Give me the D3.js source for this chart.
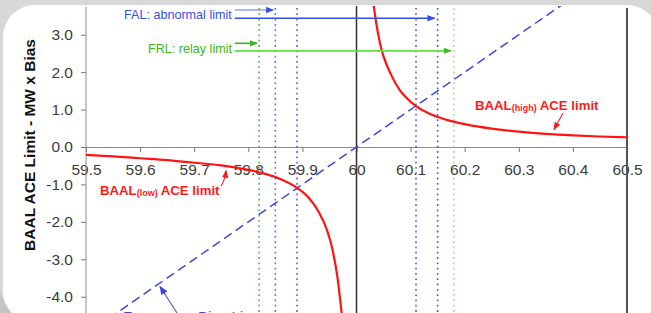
<!DOCTYPE html>
<html>
<head>
<meta charset="utf-8">
<script src="https://cdn.jsdelivr.net/npm/d3@7"></script>
<style>
  html, body { margin: 0; padding: 0; background: #d6d6d6; }
  svg { display: block; font-family: "Liberation Sans", Arial, sans-serif; }
</style>
</head>
<body>
<svg id="chart" width="651" height="313"></svg>
<script>
// ---------------- data ----------------
const xTicks = [59.5, 59.6, 59.7, 59.8, 59.9, 60.0, 60.1, 60.2, 60.3, 60.4, 60.5];
const xTickLabels = ["59.5", "59.6", "59.7", "59.8", "59.9", "60", "60.1", "60.2", "60.3", "60.4", "60.5"];
const yTicks = [3, 2, 1, 0, -1, -2, -3, -4];
const yTickLabels = ["3.0", "2.0", "1.0", "0.0", "-1.0", "-2.0", "-3.0", "-4.0"];

const baalHighFreq  = [60.027, 60.030, 60.035, 60.043, 60.050, 60.065, 60.080, 60.090, 60.110, 60.140, 60.170, 60.200, 60.250, 60.300, 60.350, 60.400, 60.450, 60.500];
const baalHighValue = [4.45, 4.00, 3.45, 2.80, 2.42, 1.90, 1.52, 1.35, 1.09, 0.86, 0.71, 0.61, 0.49, 0.41, 0.35, 0.31, 0.28, 0.26];

const baalLowFreq  = [59.500, 59.550, 59.600, 59.650, 59.700, 59.750, 59.800, 59.830, 59.860, 59.890, 59.910, 59.930, 59.945, 59.955, 59.965, 59.973];
const baalLowValue = [-0.21, -0.25, -0.30, -0.35, -0.42, -0.49, -0.61, -0.71, -0.86, -1.09, -1.33, -1.73, -2.20, -2.70, -3.50, -4.50];

const biasFreq  = [59.5, 60.5];
const biasValue = [-5.0, 5.0];

const frlFreqs = [59.82, 60.18];   // FRL: relay limit
const falFreqs = [59.85, 60.15];   // FAL: abnormal limit
const ftlFreqs = [59.89, 60.11];   // trigger limit

// ---------------- drawing ----------------
const svg = d3.select("#chart");
const W = 651, H = 313;

// frame
svg.append("rect").attr("width", W).attr("height", H).attr("fill", "#d8d8d8");
svg.append("path").attr("d", "M0,285 Q0,313 30,313 L0,313 Z").attr("fill", "#c4c4c4");
svg.append("rect").attr("x", 3).attr("y", 5).attr("width", 656).attr("height", 318)
  .attr("rx", 32).attr("fill", "#ffffff");

const x = d3.scaleLinear().domain([59.5, 60.5]).range([86, 627]);
const y = d3.scaleLinear().domain([0, 3]).range([147, 34.7]);

const defs = svg.append("defs");
defs.append("clipPath").attr("id", "plotclip")
  .append("rect").attr("x", 86).attr("y", 6).attr("width", 541).attr("height", H - 6);

function marker(id, color, size) {
  defs.append("marker").attr("id", id)
    .attr("viewBox", "0 0 10 10").attr("refX", 9).attr("refY", 5)
    .attr("markerUnits", "userSpaceOnUse")
    .attr("markerWidth", size).attr("markerHeight", size)
    .attr("orient", "auto")
    .append("path").attr("d", "M0,1 L10,5 L0,9 Z").attr("fill", color);
}
marker("arBlue", "#3550e6", 8);
marker("arGreen", "#3cb521", 8);
marker("arRed", "#ff1a1a", 8);
marker("arBias", "#3a4ad8", 9);

// x axis
const xAxis = d3.axisBottom(x).tickValues(xTicks)
  .tickFormat((d, i) => xTickLabels[i]).tickSize(5).tickPadding(12).tickSizeOuter(0);
const gx = svg.append("g").attr("transform", `translate(0,${y(0)})`).call(xAxis);
gx.select(".domain").attr("stroke", "#8a8a8a");
gx.selectAll(".tick line").attr("stroke", "#777");
gx.selectAll(".tick text").attr("fill", "#3c3c3c").attr("font-size", "15.5px")
  .attr("font-family", "Liberation Sans, Arial, sans-serif");

// y axis
const yAxis = d3.axisLeft(y).tickValues(yTicks)
  .tickFormat((d, i) => yTickLabels[i]).tickSize(5).tickPadding(8).tickSizeOuter(0);
const gy = svg.append("g").attr("transform", "translate(86,0)").call(yAxis);
gy.select(".domain").remove();
gy.selectAll(".tick line").attr("stroke", "#777");
gy.selectAll(".tick text").attr("fill", "#3c3c3c").attr("font-size", "15.5px")
  .attr("font-family", "Liberation Sans, Arial, sans-serif");
svg.append("line").attr("x1", 86).attr("x2", 86).attr("y1", 7).attr("y2", H)
  .attr("stroke", "#8a8a8a").attr("stroke-width", 1);

// y title
svg.append("text")
  .attr("transform", `translate(35,${145}) rotate(-90)`)
  .attr("text-anchor", "middle").attr("font-weight", "bold").attr("font-size", "15.5px")
  .attr("fill", "#111").text("BAAL ACE Limit - MW x Bias");

// vertical reference lines
svg.append("line").attr("x1", x(60)).attr("x2", x(60)).attr("y1", 6).attr("y2", H)
  .attr("stroke", "#333").attr("stroke-width", 1.5);
svg.append("line").attr("x1", x(60.5)).attr("x2", x(60.5)).attr("y1", 8).attr("y2", H)
  .attr("stroke", "#555").attr("stroke-width", 2);

const plot = svg.append("g").attr("clip-path", "url(#plotclip)");

// dotted limit lines
function vdots(freqs, colors) {
  plot.selectAll(null).data(freqs).enter().append("line")
    .attr("x1", d => x(d)).attr("x2", d => x(d)).attr("y1", 8).attr("y2", H)
    .attr("stroke", (d, i) => colors[i]).attr("stroke-width", 1.6)
    .attr("stroke-dasharray", "1.8,3.5");
}
vdots(frlFreqs, ["#3fbf3f", "#a8dca0"]);
vdots(falFreqs, ["#5870ff", "#3d5cff"]);
vdots(ftlFreqs, ["#8a4ce0", "#8a4ce0"]);

// frequency bias line
const line = d3.line().x(d => x(d[0])).y(d => y(d[1]));
plot.append("path").datum(biasFreq.map((f, i) => [f, biasValue[i]]))
  .attr("d", line).attr("fill", "none").attr("stroke", "#3a4ad8")
  .attr("stroke-width", 1.5).attr("stroke-dasharray", "9,5");

// BAAL curves
const curve = d3.line().x(d => x(d[0])).y(d => y(d[1])).curve(d3.curveMonotoneX);
plot.append("path").datum(baalHighFreq.map((f, i) => [f, baalHighValue[i]]))
  .attr("d", curve).attr("fill", "none").attr("stroke", "#ff1414").attr("stroke-width", 2.2);
plot.append("path").datum(baalLowFreq.map((f, i) => [f, baalLowValue[i]]))
  .attr("d", curve).attr("fill", "none").attr("stroke", "#ff1414").attr("stroke-width", 2.2);

// annotations: FAL / FRL
const startF = 59.775;
function arrow(x1, y1, x2, y2, color, mk, w) {
  svg.append("line").attr("x1", x1).attr("y1", y1).attr("x2", x2).attr("y2", y2)
    .attr("stroke", color).attr("stroke-width", w).attr("marker-end", `url(#${mk})`);
}
svg.append("text").attr("x", 124).attr("y", 18.5).attr("font-size", "12.6px")
  .attr("fill", "#3550e6").text("FAL: abnormal limit");
arrow(x(startF), y(3.66), x(falFreqs[0]) - 2, y(3.66), "#5b72ee", "arBlue", 1);
arrow(x(startF), y(3.44), x(falFreqs[1]) - 3, y(3.44), "#3550e6", "arBlue", 1.6);

svg.append("text").attr("x", 148).attr("y", 52.5).attr("font-size", "12.6px")
  .attr("fill", "#3cb521").text("FRL: relay limit");
arrow(x(startF), y(2.77), x(frlFreqs[0]) - 2, y(2.77), "#3cb521", "arGreen", 1.6);
arrow(x(startF), y(2.57), x(frlFreqs[1]) - 3, y(2.57), "#66dd44", "arGreen", 1.8);

// BAAL labels
function baalLabel(xp, yp, sub) {
  const t = svg.append("text").attr("x", xp).attr("y", yp).attr("font-weight", "bold")
    .attr("font-size", "13.2px").attr("fill", "#ff1a1a");
  t.append("tspan").text("BAAL");
  t.append("tspan").attr("font-size", "9px").attr("dy", 1).text(sub);
  t.append("tspan").attr("dy", -1).text(" ACE limit");
}
baalLabel(475, 110, "(high)");
arrow(563, 113, 554, 129.5, "#ff1a1a", "arRed", 1.1);
baalLabel(100, 195, "(low)");
svg.append("path").attr("d", "M221,186 Q225,180 226,170.5").attr("fill", "none")
  .attr("stroke", "#ff1a1a").attr("stroke-width", 1.1).attr("marker-end", "url(#arRed)");

// frequency bias line label (cut by the bottom edge, as in the source image)
svg.append("text").attr("x", 123).attr("y", 322).attr("font-size", "15px")
  .attr("fill", "#3a4ad8").text("Frequency Bias Line");
arrow(177, 313, 160, 286.5, "#5064e0", "arBias", 1.2);
</script>
</body>
</html>
